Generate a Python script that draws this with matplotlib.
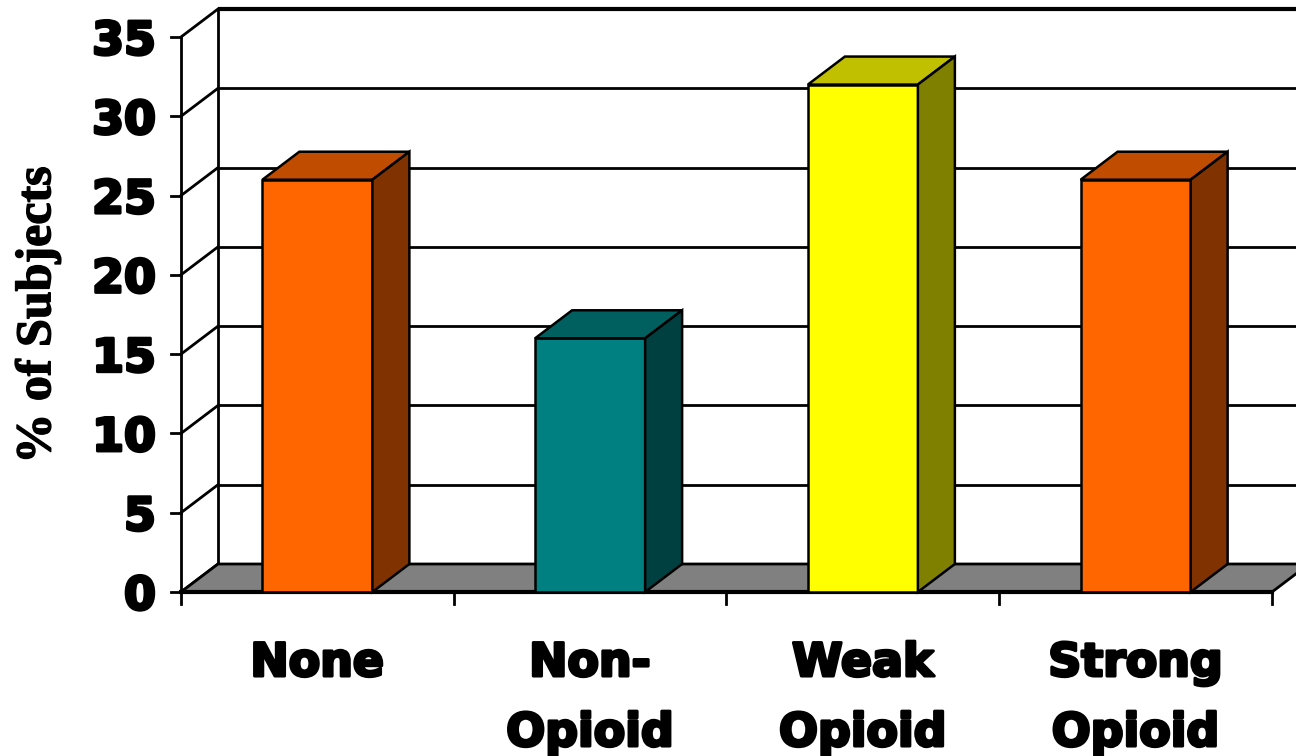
import matplotlib
matplotlib.use("Agg")
import matplotlib.pyplot as plt
from matplotlib.patches import Polygon
from matplotlib import patheffects as pe

# Data
categories = ["None", "Non-\nOpioid", "Weak\nOpioid", "Strong\nOpioid"]
values = [26, 16, 32, 26]
y_ticks = [0, 5, 10, 15, 20, 25, 30, 35]
y_label = "% of Subjects"

# Face colours per bar: (front, top, side)
front_colors = ["#FF6600", "#008080", "#FFFF00", "#FF6600"]
top_colors = ["#C04C00", "#006060", "#C0C000", "#C04C00"]
side_colors = ["#803300", "#004040", "#808000", "#803300"]

W, H = 1296, 756
fig = plt.figure(figsize=(W / 100, H / 100), dpi=100)
ax = fig.add_axes([0, 0, 1, 1])
ax.set_axis_off()

# plot scale: one category = 272.75 px, one percent = 15.857 px
XS, YS = 272.75, 555 / 35
X0, Y0 = 181, 592
ax.set_xlim(-X0 / XS, (W - X0) / XS)
ax.set_ylim(-(H - Y0) / YS, Y0 / YS)

# depth offset of the 3-D box
DX, DY = 37 / XS, 28 / YS
YMAX = 35
NCAT = len(categories)

heavy_fx = [pe.withStroke(linewidth=2.2, foreground="black")]
tick_font = dict(family="DejaVu Sans", weight="bold", size=33, color="black",
                 path_effects=heavy_fx)

# back wall gridlines and top edge
for v in y_ticks:
    lw = 3 if v == YMAX else 2
    ax.plot([DX, NCAT + 2], [v + DY, v + DY], color="black", lw=lw, zorder=1,
            solid_capstyle="butt")
    # left wall diagonals
    ax.plot([0, DX], [v, v + DY], color="black", lw=2, zorder=1)
# back wall left edge
ax.plot([DX, DX], [DY, YMAX + DY], color="black", lw=2, zorder=1)
# front vertical axis
ax.plot([0, 0], [0, YMAX], color="black", lw=2, zorder=1)

# floor
floor = Polygon([(0, 0), (NCAT, 0), (NCAT + DX, DY), (DX, DY)], closed=True,
                facecolor="#808080", edgecolor="black", lw=2, zorder=2)
ax.add_patch(floor)
ax.plot([0, NCAT], [0, 0], color="black", lw=3, zorder=3)

# y ticks and labels
for v in y_ticks:
    ax.plot([-10 / XS, 0], [v, v], color="black", lw=2, zorder=3)
    ax.text(-25 / XS, v, str(v), ha="right", va="center_baseline", **tick_font)

# x ticks
for i in range(NCAT + 1):
    ax.plot([i, i], [0, -12 / YS], color="black", lw=2, zorder=3)

# bars
bw = 110 / XS
for i, (v, fc, tc, sc) in enumerate(zip(values, front_colors, top_colors, side_colors)):
    x0 = i + 0.5 - bw / 2
    x1 = x0 + bw
    front = Polygon([(x0, 0), (x1, 0), (x1, v), (x0, v)], closed=True,
                    facecolor=fc, edgecolor="black", lw=1.8, zorder=4)
    top = Polygon([(x0, v), (x1, v), (x1 + DX, v + DY), (x0 + DX, v + DY)], closed=True,
                  facecolor=tc, edgecolor="black", lw=1.8, zorder=4)
    side = Polygon([(x1, 0), (x1 + DX, DY), (x1 + DX, v + DY), (x1, v)], closed=True,
                   facecolor=sc, edgecolor="black", lw=1.8, zorder=4)
    for p in (front, top, side):
        ax.add_patch(p)

# category labels, one text per line
line_gap = 70 / YS
first_base = -(676 - Y0) / YS
for i, lab in enumerate(categories):
    for j, line in enumerate(lab.split("\n")):
        ax.text(i + 0.5, first_base - j * line_gap, line, ha="center", va="baseline",
                **tick_font)

# y axis title
ax.text(-(181 - 38) / XS, (592 - 315) / YS, y_label, rotation=90, ha="center", va="center",
        family="Liberation Serif", weight="bold", size=36,
        path_effects=[pe.withStroke(linewidth=1.0, foreground="black")])

fig.savefig("out.png", dpi=100)
